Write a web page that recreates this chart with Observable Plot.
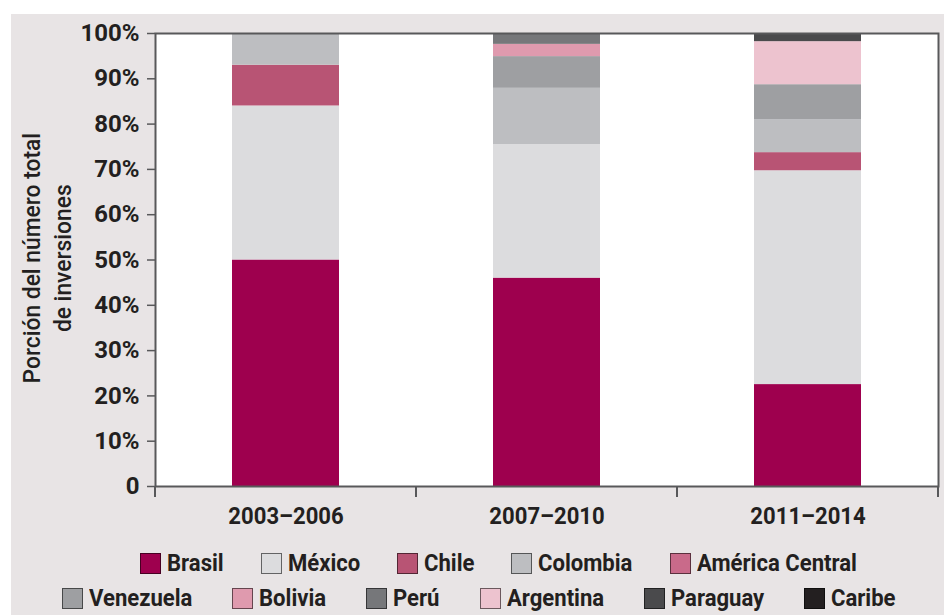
<!DOCTYPE html>
<html>
<head>
<meta charset="utf-8">
<script src="https://cdn.jsdelivr.net/npm/d3@7"></script>
<script src="https://cdn.jsdelivr.net/npm/@observablehq/plot@0.6"></script>
<style>
  body { margin:0; background:#fff; width:944px; height:615px; overflow:hidden; position:relative;
         font-family:Roboto,"Liberation Sans",sans-serif; color:#231f20; }
  #panel { position:absolute; left:11px; top:14px; right:0; bottom:0; background:#e8e4e5; }
  #chart { position:absolute; left:0; top:0; }
  #ylabel { position:absolute; left:-102px; top:227px; width:300px; text-align:center; white-space:nowrap;
            font-size:24px; font-weight:500; line-height:31px; transform:rotate(-90deg); transform-origin:center; }
  #ylabel span { display:inline-block; }
  .lrow { position:absolute; display:flex; align-items:center; font-size:24px; font-weight:bold;
          white-space:nowrap; height:28px; }
  .item { display:flex; align-items:center; gap:6px; }
  .item span { display:inline-block; transform-origin:left center; }
  .sw { width:19px; height:19px; border:1px solid rgba(0,0,0,0.55); box-sizing:content-box; flex:none; }
</style>
</head>
<body>
<div id="panel"></div>
<div id="chart"></div>
<div id="ylabel"><span>Porción del número total</span><br><span>de inversiones</span></div>
<div class="lrow" id="row1" style="left:140px; top:549px; gap:37px;"></div>
<div class="lrow" id="row2" style="left:62px; top:584px; gap:40px;"></div>
<script>
const periods = ["2003–2006", "2007–2010", "2011–2014"];
const countries = ["Brasil", "México", "Chile", "Colombia", "América Central", "Venezuela",
                   "Bolivia", "Perú", "Argentina", "Paraguay", "Caribe"];
const colors = ["#9e004e", "#dcdcde", "#b85474", "#bdbec1", "#c96a8a", "#9e9fa2",
                "#df9aae", "#76777a", "#edc3cf", "#4a4a4c", "#231f20"];

const brasil     = [50, 46, 22.5];
const mexico     = [34, 29.5, 47.2];
const chile      = [9, 0, 4];
const colombia   = [7, 12.4, 7.3];
const americaC   = [0, 0, 0];
const venezuela  = [0, 7, 7.7];
const bolivia    = [0, 2.7, 0];
const peru       = [0, 2.4, 0];
const argentina  = [0, 0, 9.5];
const paraguay   = [0, 0, 1.8];
const caribe     = [0, 0, 0];

const yTicks = [0, 10, 20, 30, 40, 50, 60, 70, 80, 90, 100];
const yTickLabels = ["0", "10%", "20%", "30%", "40%", "50%", "60%", "70%", "80%", "90%", "100%"];

const series = [brasil, mexico, chile, colombia, americaC, venezuela, bolivia, peru, argentina, paraguay, caribe];
const data = countries.flatMap((c, i) => periods.map((p, j) => ({period: p, country: c, value: series[i][j]})));

const FONT = 'Roboto,"Liberation Sans",sans-serif';
const pad = 0.59;

const plot = Plot.plot({
  width: 944,
  height: 520,
  marginLeft: 155,
  marginRight: 6,
  marginTop: 33,
  marginBottom: 34,
  style: {background: "transparent", fontFamily: FONT, fontSize: "24px", color: "#231f20", overflow: "visible"},
  x: {domain: periods, paddingInner: pad, paddingOuter: pad / 2, label: null},
  y: {domain: [0, 100], label: null},
  color: {domain: countries, range: colors},
  marks: [
    Plot.frame({fill: "white", stroke: null}),
    Plot.barY(data, {x: "period", y: "value", fill: "country"}),
    Plot.axisY({ticks: yTicks, tickFormat: d => yTickLabels[yTicks.indexOf(d)], tickSize: 8, tickPadding: 8,
                fontWeight: "bold", stroke: "#58585a", strokeWidth: 1.5, label: null}),
    Plot.axisX({tickSize: 0, tickPadding: 20, fontWeight: "bold", label: null}),
    Plot.frame({stroke: "#58585a", strokeWidth: 2})
  ]
});
document.getElementById("chart").appendChild(plot);

// condensed look for the x tick labels: squeeze glyphs horizontally
d3.select(plot).selectAll("g[aria-label='x-axis tick label'] text").each(function() {
  const L = this.getComputedTextLength();
  if (L > 0) {
    this.setAttribute("textLength", L * 0.92);
    this.setAttribute("lengthAdjust", "spacingAndGlyphs");
  }
});

// category boundary ticks below the x axis
const xs = plot.scale("x");
const ys = plot.scale("y");
const half = xs.step * pad / 2;
const bounds = periods.map(p => xs.apply(p) - half).concat([xs.apply(periods[periods.length - 1]) + xs.bandwidth + half]);
const y0 = ys.apply(0);
d3.select(plot).append("g")
  .selectAll("line").data(bounds).join("line")
  .attr("x1", d => d).attr("x2", d => d)
  .attr("y1", y0).attr("y2", y0 + 11)
  .attr("stroke", "#58585a").attr("stroke-width", 2);

function condense(el, f) {
  const w = el.getBoundingClientRect().width;
  el.style.transform = `scaleX(${f})`;
  el.style.marginRight = `${-(1 - f) * w}px`;
}

// legend
const rows = [countries.slice(0, 5), countries.slice(5)];
rows.forEach((r, k) => {
  const row = document.getElementById("row" + (k + 1));
  r.forEach(c => {
    const it = document.createElement("div");
    it.className = "item";
    const sw = document.createElement("div");
    sw.className = "sw";
    sw.style.background = colors[countries.indexOf(c)];
    const t = document.createElement("span");
    t.textContent = c;
    it.appendChild(sw); it.appendChild(t);
    row.appendChild(it);
    condense(t, 0.92);
  });
});
document.querySelectorAll("#ylabel span").forEach(s => {
  s.style.transform = "scaleX(0.95)";
});
</script>
</body>
</html>
